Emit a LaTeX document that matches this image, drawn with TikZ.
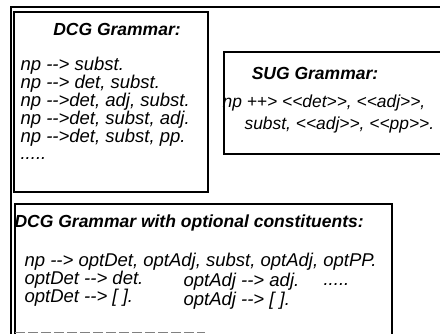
\documentclass[tikz,border=0pt]{standalone}
\usepackage{fontspec}
\setmainfont{Liberation Sans}
\begin{document}
\begin{tikzpicture}[x=1pt,y=-1pt, line width=1.2pt,
 txt/.style={font=\fontsize{18.5}{18}\selectfont\itshape, inner sep=0pt, anchor=base west},
 sug/.style={font=\fontsize{17.4}{18}\selectfont\itshape, inner sep=0pt, anchor=base west},
 ttl/.style={font=\fontsize{17.5}{18}\selectfont\bfseries\itshape, inner sep=0pt, anchor=base}]
\useasboundingbox (0,0) rectangle (440,334);
\fill[white] (0,0) rectangle (440,334);
% frames
\draw (11,334) -- (11,7) -- (440,7);
\draw (14,12) rectangle (208,192);
\draw (440,52) -- (224,52) -- (224,154) -- (440,154);
\draw (15,334) -- (15,204) -- (392,204) -- (392,334);
\draw[gray, dash pattern=on 10pt off 3pt, line width=0.8pt] (15,332) -- (205,332);
% DCG grammar
\node[ttl] (t1) at (117,36) {DCG Grammar:};
\node[txt] (d1) at (20,71) {np -{}-> subst.};
\node[txt] (d2) at (20,89) {np -{}-> det, subst.};
\node[txt] (d3) at (20,107) {np -{}->det, adj, subst.};
\node[txt] (d4) at (20,125) {np -{}->det, subst, adj.};
\node[txt] (d5) at (20,143) {np -{}->det, subst, pp.};
\node[txt] (d6) at (20,160) {.....};
% SUG grammar
\node[ttl] (t2) at (315,80) {SUG Grammar:};
\node[sug] (s1) at (222,108) {np ++> <{}<det>{}>, <{}<adj>{}>,};
\node[sug] (s2) at (244,130) {subst, <{}<adj>{}>, <{}<pp>{}>.};
% optional
\node[ttl, anchor=base west] (t3) at (14,228) {DCG Grammar with optional constituents:};
\node[txt] (o1) at (24,267) {np -{}-> optDet, optAdj, subst, optAdj, optPP.};
\node[txt] (o2) at (24,285) {optDet -{}-> det.};
\node[txt] (o3) at (24,303) {optDet -{}-> [ ].};
\node[txt] (o4) at (183,287) {optAdj -{}-> adj.};
\node[txt] (o5) at (183,306) {optAdj -{}-> [ ].};
\node[txt] (o6) at (323,286) {.....};
\end{tikzpicture}
\end{document}
